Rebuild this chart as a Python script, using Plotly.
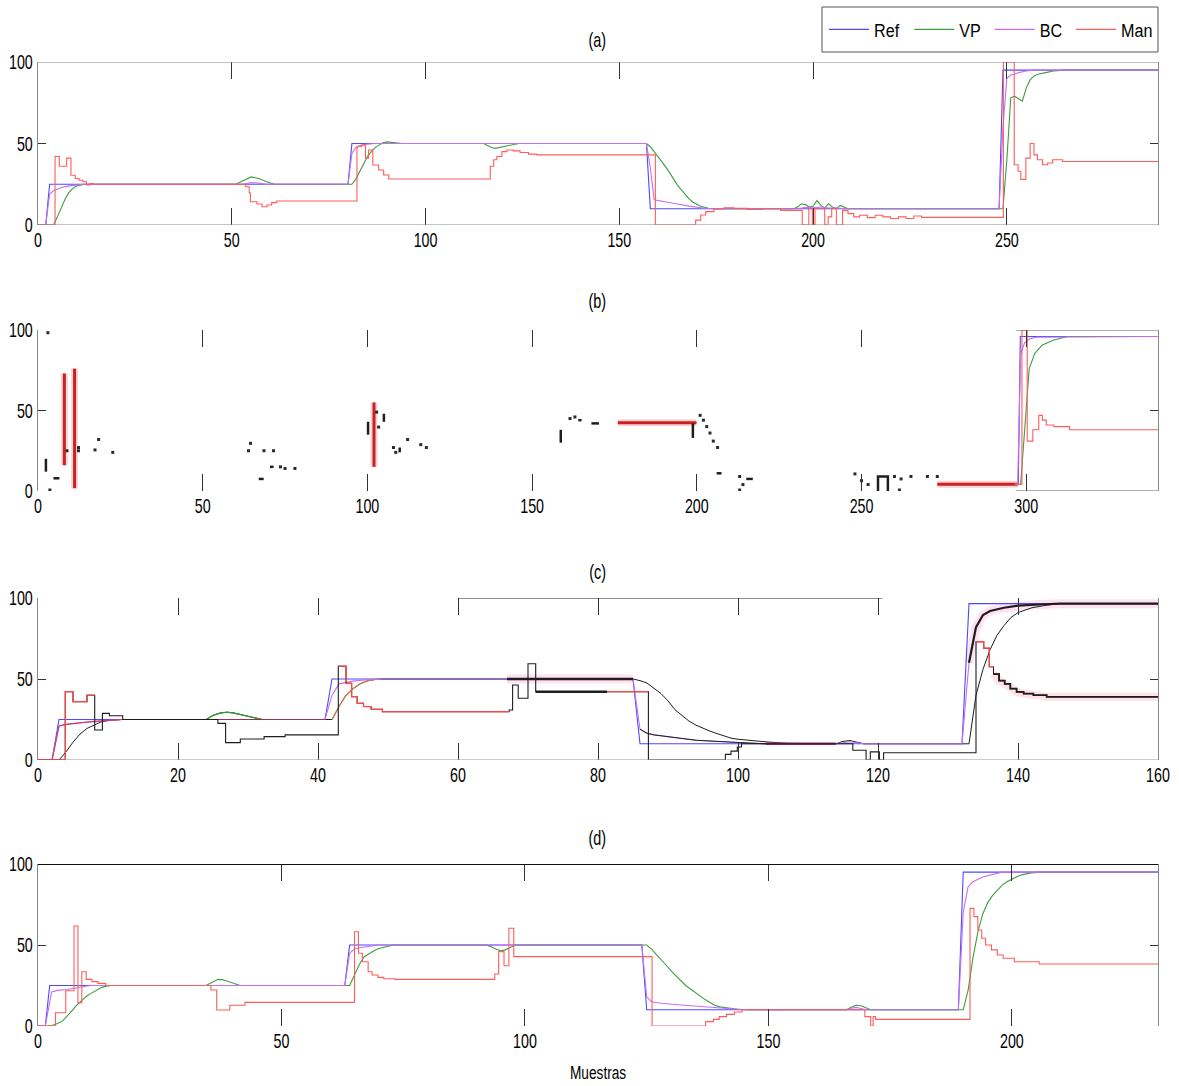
import plotly.graph_objects as go

FONT = "Liberation Sans, Arial, sans-serif"
C_REF = "#4a4aff"
C_VP = "#3d9e3d"
C_BC = "#c76ff0"
C_MAN = "#ff5c5c"
C_DARK = "#1e1e1e"

# ---------------- panel (a) ----------------
a_ref_x = [0, 2, 3, 80, 81, 157, 158, 248, 249, 289]
a_ref_y = [0, 0, 25, 25, 50, 50, 10, 10, 95, 95]

a_vp_x = [0, 4, 5, 6, 7, 8, 9, 10, 11, 12,
          51, 53, 55, 57, 59, 61,
          81, 82, 83, 84, 85, 86, 87, 88, 89, 90, 92, 94,
          115, 116, 117, 118, 119, 121, 123, 124,
          157, 158, 159, 160, 161, 162, 163, 164, 165, 166, 167, 168, 169, 170, 171, 173, 175,
          195, 196, 197, 198, 199, 200, 201, 202, 203, 204, 205, 206, 207, 208, 209,
          249, 250, 251, 252, 253, 254, 255, 256, 257, 258, 260, 262, 265, 289]
a_vp_y = [0, 0, 5, 11, 16, 20, 22.5, 24, 24.7, 25,
          25, 27.5, 29.5, 28.5, 26.5, 25,
          25, 28, 33, 38, 42, 45, 47.5, 49, 50.5, 51, 50.5, 50,
          50, 48.5, 47.5, 47, 47.5, 48.5, 49.5, 50,
          50, 48, 45, 42, 38.5, 35.5, 32, 28, 24.5, 21.5, 18.5, 16, 14, 12.5, 11.5, 10.3, 10,
          10, 11, 13, 12.5, 11, 11.5, 15, 12, 10.5, 13, 11, 10, 12, 11, 10,
          10, 40, 78, 79, 77.5, 76, 84, 89, 91.5, 92.5, 93.5, 94.5, 95, 95]

a_bc_x = [0, 2, 3, 4, 5, 6, 8, 10, 12,
          53, 55, 57, 59,
          80, 81, 82, 83, 85, 87,
          157, 158, 159, 160, 162, 165, 168, 170, 172, 174,
          196, 198, 200, 202, 204, 206, 208,
          248, 249, 250, 251, 252, 253, 255, 257, 289]
a_bc_y = [0, 0, 19, 21, 22, 23, 24, 24.7, 25,
          25, 26, 25.7, 25,
          25, 44, 47.5, 48.8, 49.6, 50,
          50, 35, 15.5, 15, 14.2, 12.9, 11.6, 10.8, 10.3, 10,
          10, 10.8, 10.5, 11, 10.4, 10.6, 10,
          10, 60, 90, 92, 92.5, 93.5, 94.5, 95, 95]

a_man_x = [0, 4.4, 5.5, 7.4, 8.5, 9.6, 10.6, 11.6, 12.5, 13.5, 14.3,
           53.6, 54.5, 54.8, 56.5, 57.8, 59.1, 60.3, 61.6,
           82.3, 83.5, 84.5, 85.3, 86.4, 87.9, 89.2, 90.5,
           116.7, 117.6, 118.4, 119.7, 121.0, 122.7, 124.4, 126.6, 128.7,
           159.3, 169.7, 171.0, 172.3, 174.4, 177.0, 179.6, 183, 187, 191.6,
           197.2, 198.9, 199.8, 200.5, 203.0, 203.9, 204.8, 206.0, 207.6, 209, 210.5, 212, 214, 216,
           218, 220, 222, 224, 226, 228,
           249.1, 251.9, 252.9, 253.6, 254.9, 256.0, 257.0, 257.9, 259.2, 260.5, 261.8, 264.4, 289]
a_man_y = [0, 42, 36, 41, 30.5, 28.5, 27.5, 26.5, 24.5, 25.5, 25,
           23.5, 19.8, 14.3, 12.9, 11.2, 12.3, 13.7, 14.7,
           48, 49, 41, 46, 36.8, 33.7, 30.7, 28.2,
           36, 40, 42, 45, 46, 45.5, 44.5, 43.5, 43,
           0, 3, 6.1, 8.2, 9.8, 10.6, 10.2, 9.5, 10, 9,
           0, 10, 0, 10, 0, 5, 10, 0, 9, 7, 5, 6, 4.5, 6,
           5, 4, 5, 4, 5.5, 4.7,
           100, 37, 33, 28, 41, 50, 43, 40, 37, 38, 40, 39, 39]

# ---------------- panel (b) ----------------
b_ref_x = [296.5, 297.6, 298.2, 340]
b_ref_y = [4.2, 4.2, 96, 96]
b_vp_x = [296.5, 298.3, 300.9, 302.6, 304.9, 308.4, 312.5, 340]
b_vp_y = [4.2, 4.2, 76, 85.5, 90.7, 93.8, 96, 96]
b_bc_x = [296.5, 297.4, 298.3, 299.5, 301, 303, 340]
b_bc_y = [4.2, 4.2, 85, 92, 94.5, 95.5, 96]
b_man_x = [296.5, 298.7, 300.3, 302.0, 303.8, 304.9, 306.1, 308.4, 313.1, 340]
b_man_y = [4.2, 100, 31, 38, 47, 44, 41, 40, 38, 38]
# visible pieces of the manual-control trace earlier in the run
b_man_seg_x = [176, 199.9, None, 273, 297.4, None, 8, 8, None, 11.1, 11.1, None, 102, 102]
b_man_seg_y = [42.4, 42.4, None, 4.2, 4.2, None, 16, 73, None, 1.7, 76, None, 15, 55]
# short dark fragments
b_frag_x = [2.4, 2.4, None, 4.7, 6.5, None, 67, 68.5, None, 70.4, 71.5, None, 100.2, 100.2, None,
            105, 105, None, 109.8, 109.8, None, 158.7, 158.7, None, 164, 165, None, 168, 170.3, None,
            198.8, 198.8, None, 206, 207.5, None, 215, 217, None, 255, 255, 258, 258]
b_frag_y = [12, 20, None, 7.9, 7.9, None, 7.5, 7.5, None, 15, 15, None, 35, 43, None,
            43, 48, None, 24, 27, None, 30, 38, None, 44, 44, None, 42, 42, None,
            33, 42, None, 11, 11, None, 7.5, 7.5, None, 0, 9, 9, 0]
b_dot_x = [3.6, 3, 8.8, 12.3, 12.3, 17.3, 18.4, 22.7, 64.5, 63.9, 68.6, 71.5, 73.6, 75, 78,
           102.8, 103.4, 107.9, 108.6, 112.2, 116.2, 117.9, 161.5, 163, 201, 202, 203, 204, 205,
           206.3, 213, 213, 214, 248, 250, 252, 260, 261.5, 262, 265, 270, 273]
b_dot_y = [0.6, 98.3, 25, 25, 27, 25.5, 32, 24, 29.6, 25, 25, 25, 15, 14, 14,
           49, 39.7, 27, 24, 32, 28.8, 27, 45, 46, 47, 44, 40, 36, 31,
           27, 9, 0.6, 4, 10.6, 6.4, 4, 9, 0.6, 7.5, 9, 9, 9]

# ---------------- panel (c) ----------------
c_ref_x = [0, 2, 3, 41, 42, 85, 86, 132, 133, 160]
c_ref_y = [0, 0, 25, 25, 50, 50, 10, 10, 96.5, 96.5]

c_vp_x = [0, 3, 4, 5, 6, 7, 8, 9, 10, 12,
          24, 25, 26, 27, 28, 29, 30, 31, 32,
          42, 43, 44, 45, 46, 47, 48, 49,
          85, 86, 87, 88, 89, 90, 91, 92, 93, 94, 95, 96, 97, 98, 99, 100,
          102, 104, 107, 110,
          114, 115, 116, 117, 118,
          133, 134, 135, 136, 137, 138, 139, 140,
          142, 144, 146, 160]
c_vp_y = [0, 0, 5, 11, 16, 19.5, 21.5, 23.5, 24.3, 25,
          25, 27.5, 29, 29.5, 29, 28, 27, 26, 25,
          25, 33, 40, 44, 47, 48.8, 49.6, 50,
          50, 49, 47.5, 44.5, 41, 36.5, 31, 27.5, 24, 21.5, 19.5, 17.8, 16.3, 14.8, 13.5, 12.8,
          11.8, 11.2, 10.3, 10,
          10, 11.5, 12, 11, 10,
          10, 40, 56, 68, 77, 83, 88, 91,
          94, 95.5, 96.5, 96.5]

c_bc_x = [0, 2, 3, 4, 6, 8, 10, 12,
          41, 42, 43, 44, 45, 47, 49,
          67,
          85, 86, 87, 88, 90, 94, 100, 104,
          114, 115, 116, 117, 118,
          132, 133, 134, 135, 136, 138, 140, 143, 146, 160]
c_bc_y = [0, 0, 21, 22, 23, 23.8, 24.5, 25,
          25, 40, 47, 48, 48.7, 49.5, 50,
          50,
          50, 19, 16.5, 15.5, 14.5, 12.2, 10.8, 10,
          10, 10.8, 11.3, 10.6, 10,
          10, 60, 82, 89.5, 92, 94, 95.3, 96, 96.5, 96.5]

c_man_x = [0, 3.9, 5.0, 7.0, 8.1, 9.2, 10.2, 12.1,
           25.7, 26.8, 28.9, 32.3, 35.3,
           42.9, 44.0, 44.8, 45.6, 46.5, 47.6, 49.2,
           67.3, 67.8, 68.6, 70.0, 71.1,
           87.2,
           98.2, 99.0, 99.9, 100.5,
           116.4, 118.3, 118.9, 120.2, 120.8,
           134.0, 135.1, 135.9, 136.5, 137.3, 138.1, 138.9, 139.8, 140.8, 142.2, 144.1, 160]
c_man_y = [0, 42.2, 36, 40, 18.5, 28.8, 27.3, 25,
           22.6, 10.7, 13, 14.4, 15.5,
           57.9, 47.3, 39.1, 35, 33, 31.3, 29.8,
           30.9, 46.3, 38.1, 59.4, 42.2,
           0,
           3.5, 5.5, 8, 10,
           6, 0, 5, 0, 4.5,
           73, 69, 57.6, 53, 49, 47, 44, 42, 41, 40, 39, 39]

# ---------------- panel (d) ----------------
d_ref_x = [0, 1.5, 2.4, 63, 64, 124, 125, 189, 190, 230]
d_ref_y = [0, 0, 25, 25, 50, 50, 10, 10, 95, 95]

d_vp_x = [0, 2, 3, 4, 5, 6, 7, 8, 9, 10, 11, 12, 13, 14, 15,
          34.5, 36, 37, 38, 39, 40, 41.5,
          64, 65, 66, 67, 68, 69, 70, 72, 73,
          92, 93, 94, 95, 96, 97, 98,
          125, 126, 127, 128, 129, 130, 131, 132, 133, 134, 135, 136, 137, 138, 139, 140, 142, 144, 146,
          166, 167, 168, 169, 170, 171,
          190, 191, 192, 193, 194, 195, 196, 197, 198, 199, 200, 201, 202, 204, 206, 230]
d_vp_y = [0, 0, 0.5, 1.5, 3, 6, 9.5, 13, 16, 18.5, 20.3, 22, 23.7, 24.6, 25,
          25, 27.5, 28.8, 28.5, 27.5, 26.3, 25,
          25, 31, 38, 42.8, 44.8, 46.5, 47.8, 49.4, 50,
          50, 49, 47.5, 46.5, 47, 48.5, 50,
          50, 47.5, 44, 41, 37.5, 34, 31, 28, 25, 22.8, 20.5, 18.3, 16.3, 14.5, 12.8, 11.8, 10.8, 10.2, 10,
          10, 11.5, 12.8, 12.5, 11, 10,
          10, 22, 42, 58, 69, 76, 80.5, 84, 87, 89, 90.8, 92.2, 93.3, 94.5, 95, 95]

d_bc_x = [0, 1.5, 2.8, 4, 6, 8, 10.7, 13,
          63, 64, 65, 66, 68, 70,
          124, 125, 126, 128, 132, 136, 139, 143, 146,
          166, 167, 168, 169, 170,
          189, 190, 191, 192, 194, 196, 198, 230]
d_bc_y = [0, 0, 21, 22, 22.5, 23.5, 25, 25,
          25, 45, 47.5, 48.3, 49.2, 50,
          50, 18, 15, 14, 13, 12, 11.4, 10.5, 10,
          10, 11, 11.5, 10.8, 10,
          10, 70, 86, 89, 92, 93.5, 95, 95]

d_man_x = [0, 3.6, 5.7, 7.4, 8.2, 9.0, 9.9, 11.1, 12.3, 13.9,
           35.5, 36.7, 39.4, 42.5,
           65.0, 65.8, 66.6, 67.8, 68.6, 69.8, 71.0, 73.3,
           93.8, 94.6, 95.7, 96.7, 97.7,
           126.1,
           137.1, 138.7, 139.9, 141.4, 143, 144.6,
           169.8, 171, 171.5, 172,
           191.4, 192.2, 193.0, 193.8, 194.6, 195.8, 197, 198.2, 200.5, 205.6, 230]
d_man_y = [0, 8.2, 21.8, 61.7, 14.4, 33.5, 28.8, 27.4, 26.3, 25,
           22.2, 9.9, 12.8, 14.6,
           58.2, 44.9, 39.7, 33.5, 31.5, 30, 29.2, 28.8,
           32.1, 45.9, 37.2, 60.3, 42.8,
           0,
           2.7, 4.1, 5.8, 7.2, 8.6, 10,
           5.8, 0, 5.8, 4.1,
           72.6, 67.5, 59.3, 54.2, 50, 47, 43.8, 41.8, 39.7, 38.3, 38.3]

for xs, ys in [(a_ref_x, a_ref_y), (a_vp_x, a_vp_y), (a_bc_x, a_bc_y), (a_man_x, a_man_y),
               (b_ref_x, b_ref_y), (b_vp_x, b_vp_y), (b_bc_x, b_bc_y), (b_man_x, b_man_y),
               (b_man_seg_x, b_man_seg_y), (b_frag_x, b_frag_y), (b_dot_x, b_dot_y),
               (c_ref_x, c_ref_y), (c_vp_x, c_vp_y), (c_bc_x, c_bc_y), (c_man_x, c_man_y),
               (d_ref_x, d_ref_y), (d_vp_x, d_vp_y), (d_bc_x, d_bc_y), (d_man_x, d_man_y)]:
    assert len(xs) == len(ys)


def part(xs, ys, lo, hi):
    """Points of a polyline whose abscissa lies in [lo, hi]."""
    px = [x for x in xs if lo <= x <= hi]
    py = [y for x, y in zip(xs, ys) if lo <= x <= hi]
    return px, py


def step_part(xs, ys, lo, hi):
    """Piece of a staircase between lo and hi (held values carried to the ends)."""
    held = ys[0]
    for x, y in zip(xs, ys):
        if x <= lo:
            held = y
    px, py = [lo], [held]
    for x, y in zip(xs, ys):
        if lo < x < hi:
            px.append(x)
            py.append(y)
            held = y
    px.append(hi)
    py.append(held)
    return px, py


W, H = 1179, 1086
X0, X1 = 38, 1158
panels = [
    dict(top=62, bot=225, xmax=289, ticks=[0, 50, 100, 150, 200, 250], title="(a)", ty=40),
    dict(top=330, bot=491, xmax=340, ticks=[0, 50, 100, 150, 200, 250, 300], title="(b)", ty=301),
    dict(top=598, bot=760, xmax=160, ticks=[0, 20, 40, 60, 80, 100, 120, 140, 160], title="(c)", ty=572),
    dict(top=864, bot=1026, xmax=230, ticks=[0, 50, 100, 150, 200], title="(d)", ty=838),
]

fig = go.Figure()


def sfx(i):
    return "" if i == 0 else str(i + 1)


def line(i, x, y, color, width=1.1, shape="linear", name=None, legend=False):
    fig.add_trace(go.Scatter(
        x=x, y=y, mode="lines", name=name, showlegend=legend, legendgroup=name,
        line=dict(color=color, width=width, shape=shape),
        xaxis="x" + sfx(i), yaxis="y" + sfx(i), hoverinfo="skip", connectgaps=False))


# (a)
line(0, a_ref_x, a_ref_y, C_REF, name="Ref", legend=True)
line(0, a_vp_x, a_vp_y, C_VP, name="VP", legend=True)
line(0, a_bc_x, a_bc_y, C_BC, name="BC", legend=True)
line(0, a_man_x, a_man_y, C_MAN, shape="hv", name="Man", legend=True)

# (b)
line(1, b_man_seg_x, b_man_seg_y, "rgba(230,60,60,0.22)", width=7)
line(1, b_man_seg_x, b_man_seg_y, "#c82222", width=3)
line(1, b_frag_x, b_frag_y, C_DARK, width=2.5)
fig.add_trace(go.Scatter(x=b_dot_x, y=b_dot_y, mode="markers", showlegend=False, hoverinfo="skip",
                         marker=dict(color="#2a2a2a", size=3, symbol="square"),
                         xaxis="x2", yaxis="y2"))
line(1, b_ref_x, b_ref_y, C_REF)
line(1, b_vp_x, b_vp_y, C_VP)
line(1, b_bc_x, b_bc_y, C_BC)
line(1, b_man_x, b_man_y, C_MAN, shape="hv")

# (c)
for lo, hi in [(67, 85), (133, 160)]:
    gx, gy = part(c_bc_x, c_bc_y, lo, hi)
    line(2, gx, gy, "rgba(255,90,170,0.18)", width=9)
gx, gy = step_part(c_man_x, c_man_y, 136.5, 160)
line(2, gx, gy, "rgba(255,90,120,0.18)", width=8)
line(2, c_ref_x, c_ref_y, C_REF)
line(2, c_vp_x, c_vp_y, C_DARK, width=1)
gx, gy = part(c_vp_x, c_vp_y, 24, 32)
line(2, gx, gy, "#2e9a2e", width=1.3)
gx, gy = part(c_vp_x, c_vp_y, 42, 49)
line(2, gx, gy, "#c8844c", width=1.2)
line(2, c_bc_x, c_bc_y, C_BC)
gx, gy = part(c_bc_x, c_bc_y, 2, 12)
line(2, gx, gy, "#c8406a", width=1.2)
gx, gy = part(c_bc_x, c_bc_y, 12, 41)
line(2, gx, gy, "#9a3050", width=1.2)
gx, gy = part(c_bc_x, c_bc_y, 67, 85)
line(2, gx, gy, C_DARK, width=2.5)
gx, gy = part(c_bc_x, c_bc_y, 86, 104)
line(2, gx, gy, C_DARK, width=1)
gx, gy = part(c_bc_x, c_bc_y, 104, 114)
line(2, gx, gy, "#a02a86", width=2.5)
gx, gy = part(c_bc_x, c_bc_y, 133, 160)
line(2, gx, gy, C_DARK, width=2.2)
line(2, c_man_x, c_man_y, C_DARK, shape="hv", width=1.1)
for lo, hi in [(0, 8.1), (42.9, 67.3), (71.1, 87.2), (134.0, 136.5)]:
    gx, gy = step_part(c_man_x, c_man_y, lo, hi)
    line(2, gx, gy, "#ff4848", shape="hv", width=1.3)
gx, gy = step_part(c_man_x, c_man_y, 71.1, 81.3)
line(2, gx, gy, C_DARK, shape="hv", width=2.5)
gx, gy = step_part(c_man_x, c_man_y, 136.5, 160)
line(2, gx, gy, C_DARK, shape="hv", width=1.8)

# (d)
line(3, d_ref_x, d_ref_y, C_REF)
line(3, d_vp_x, d_vp_y, C_VP)
line(3, d_bc_x, d_bc_y, C_BC)
line(3, d_man_x, d_man_y, C_MAN, shape="hv")

# legend frame box (paper pixels)
LX0, LX1, LY0, LY1 = 822, 1158, 7, 52

layout = dict(
    width=W, height=H, margin=dict(l=0, r=0, t=0, b=0, autoexpand=False),
    paper_bgcolor="white", plot_bgcolor="white",
    font=dict(family=FONT, size=20, color="black"),
    showlegend=True,
    legend=dict(orientation="h", x=(LX0 + 2) / W, xanchor="left",
                y=1 - (LY0 + LY1) / 2 / H, yanchor="middle",
                bgcolor="rgba(0,0,0,0)", borderwidth=0,
                font=dict(family=FONT, size=19, color="black"),
                itemwidth=40, tracegroupgap=0),
)

shapes = [dict(type="rect", xref="paper", yref="paper", x0=LX0 / W, x1=LX1 / W,
               y0=1 - LY1 / H, y1=1 - LY0 / H, line=dict(color="#555", width=1), fillcolor="white",
               layer="below")]
annotations = []
for i, p in enumerate(panels):
    s = sfx(i)
    layout["xaxis" + s] = dict(
        domain=[X0 / W, X1 / W], range=[0, p["xmax"]], anchor="y" + s,
        tickvals=p["ticks"], ticktext=[str(t) for t in p["ticks"]],
        ticks="inside", ticklen=17, tickwidth=1.3, tickcolor="#333", mirror="ticks",
        showline=False, showgrid=False, zeroline=False, automargin=False,
        tickfont=dict(family=FONT, size=21, color="black"))
    layout["yaxis" + s] = dict(
        domain=[1 - p["bot"] / H, 1 - p["top"] / H], range=[0, 100], anchor="x" + s,
        tickvals=[0, 50, 100], ticks="inside", ticklen=8, tickwidth=1.3, tickcolor="#333",
        mirror="ticks", showline=True, linecolor="#888", linewidth=1,
        showgrid=False, zeroline=False, automargin=False,
        tickfont=dict(family=FONT, size=21, color="black"))
    annotations.append(dict(text=p["title"], x=597 / W, y=1 - p["ty"] / H, xref="paper", yref="paper",
                            xanchor="center", yanchor="middle",
                            showarrow=False, font=dict(family=FONT, size=20, color="black")))

# frame edges
shapes += [
    dict(type="line", xref="x domain", yref="y", x0=0, x1=1, y0=100, y1=100, line=dict(color="#888", width=1)),
    dict(type="line", xref="x domain", yref="y", x0=0, x1=1, y0=0, y1=0, line=dict(color="#888", width=1)),
    dict(type="line", xref="x2", yref="y2", x0=296.8, x1=340, y0=100, y1=100, line=dict(color="#666", width=1)),
    dict(type="line", xref="x2", yref="y2", x0=296.8, x1=340, y0=0, y1=0, line=dict(color="#666", width=1)),
    dict(type="line", xref="x3", yref="y3", x0=60, x1=120.6, y0=100, y1=100, line=dict(color="#222", width=1.2)),
    dict(type="line", xref="x3", yref="y3", x0=3.9, x1=160, y0=0, y1=0, line=dict(color="#999", width=1)),
    dict(type="line", xref="x4 domain", yref="y4", x0=0, x1=1, y0=100, y1=100, line=dict(color="#111", width=2)),
]
layout["shapes"] = shapes
annotations.append(dict(text="Muestras", x=598 / W, y=1 - 1072 / H, xref="paper", yref="paper",
                        xanchor="center", yanchor="middle",
                        showarrow=False, font=dict(family=FONT, size=19, color="black")))
layout["annotations"] = annotations

fig.update_layout(**layout)

# The typeface of the figure is a condensed sans; compress the label glyphs horizontally
# about their anchor so positions stay where Plotly put them.
SQUEEZE_JS = """
(function () {
  var gd = document.getElementById('{plot_id}');
  function squeeze() {
    var rules = [['.xaxislayer-above text', 'c', 0.68], ['.yaxislayer-above text', 'r', 0.68],
                 ['.annotation-text', 'c', 0.72], ['.legendtext', 'l', 0.85]];
    rules.forEach(function (r) {
      gd.querySelectorAll(r[0]).forEach(function (t) {
        var tr = t.getAttribute('transform') || '';
        if (tr.indexOf('scale(') >= 0) return;
        var b = t.getBBox();
        var ax = r[1] === 'c' ? b.x + b.width / 2 : (r[1] === 'r' ? b.x + b.width : b.x);
        t.setAttribute('transform', tr + ' translate(' + ax + ',0) scale(' + r[2] + ',1) translate(' + (-ax) + ',0)');
      });
    });
  }
  squeeze();
  if (gd.on) { gd.on('plotly_afterplot', squeeze); }
  setTimeout(squeeze, 50);
})();
"""

fig.write_html("out.html", post_script=SQUEEZE_JS)
